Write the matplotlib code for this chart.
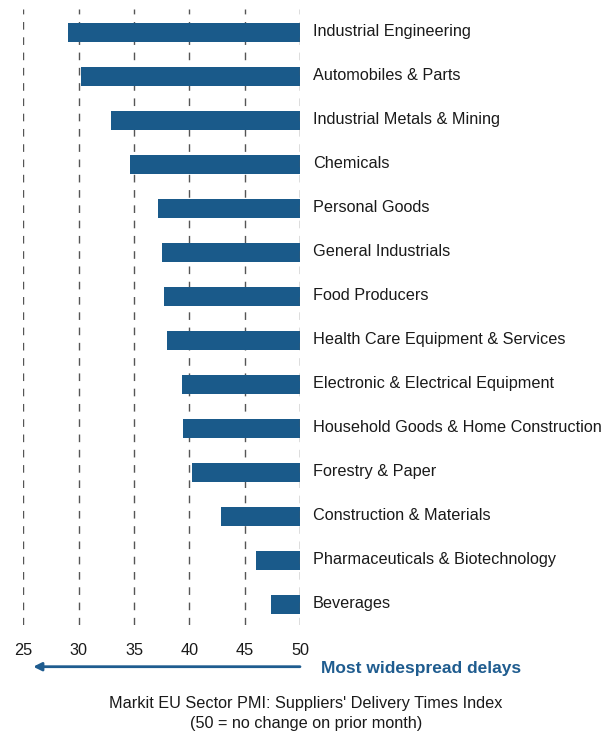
import matplotlib
matplotlib.use("Agg")
import matplotlib.pyplot as plt
import matplotlib.transforms as mtransforms

categories = [
    "Industrial Engineering",
    "Automobiles & Parts",
    "Industrial Metals & Mining",
    "Chemicals",
    "Personal Goods",
    "General Industrials",
    "Food Producers",
    "Health Care Equipment & Services",
    "Electronic & Electrical Equipment",
    "Household Goods & Home Construction",
    "Forestry & Paper",
    "Construction & Materials",
    "Pharmaceuticals & Biotechnology",
    "Beverages",
]
values = [29.0, 30.2, 32.9, 34.6, 37.2, 37.5, 37.7, 38.0, 39.3, 39.4, 40.2, 42.9, 46.0, 47.4]
baseline = 50
xticks = [25, 30, 35, 40, 45, 50]

plt.rcParams['font.family'] = ['Liberation Sans', 'DejaVu Sans']

W, H = 612, 736
fig = plt.figure(figsize=(W / 100, H / 100), dpi=100)
ax = fig.add_axes([23.3 / W, 1 - 625 / H, (300 - 23.3) / W, (625 - 9) / H])

bar_color = '#1a5a8a'
blue = '#1f5c8f'
fs = 11.7

ypos = list(range(len(categories)))
widths = [v - baseline for v in values]
ax.barh(ypos, widths, left=baseline, height=0.44, color=bar_color, zorder=2)

for x in xticks:
    ax.axvline(x, color='#555555', lw=1.0, linestyle=(0, (5.5, 5.5)),
               zorder=3 if x == baseline else 1)

for i, lab in enumerate(categories):
    ax.annotate(lab, xy=(baseline, i - 0.01), xytext=(9.4, 0), textcoords='offset points',
                va='center', ha='left', fontsize=fs, color='#1a1a1a',
                annotation_clip=False)

ax.set_xlim(25, 50)
ax.set_ylim(len(categories) - 1 + 0.47, -0.53)
ax.set_xticks(xticks)
ax.set_xticklabels([str(t) for t in xticks], fontsize=fs, color='#1a1a1a')
ax.tick_params(axis='x', length=0, pad=13)
ax.set_yticks([])
for s in ax.spines.values():
    s.set_visible(False)

trans = mtransforms.blended_transform_factory(ax.transData, fig.transFigure)
ya = 1 - 666.7 / H
ax.annotate('', xy=(25.9, ya), xytext=(50, ya), xycoords=trans, textcoords=trans,
            arrowprops=dict(arrowstyle='-|>', color=blue, lw=2.0, mutation_scale=12,
                            shrinkA=0, shrinkB=0), annotation_clip=False)
ax.text(51.9, 1 - 669 / H, 'Most widespread delays', transform=trans, ha='left',
        va='center', fontsize=12.5, fontweight='bold', color=blue)

fig.text(0.5, 1 - 703.5 / H, "Markit EU Sector PMI: Suppliers' Delivery Times Index",
         ha='center', va='center', fontsize=fs, color='#1a1a1a')
fig.text(0.5, 1 - 723.5 / H, "(50 = no change on prior month)",
         ha='center', va='center', fontsize=fs, color='#1a1a1a')

fig.savefig('out.png', dpi=100)
